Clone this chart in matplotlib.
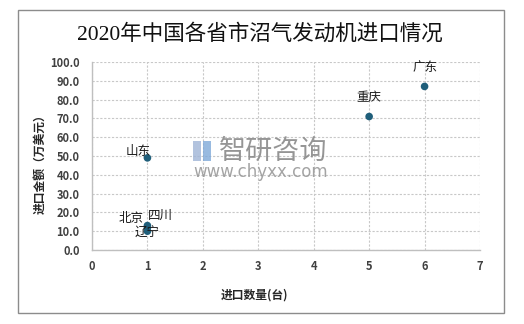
import matplotlib
matplotlib.use("Agg")
import matplotlib.pyplot as plt
from matplotlib.patches import Rectangle

plt.rcParams['font.family'] = ['Noto Sans CJK SC', 'DejaVu Sans']

# Data: import quantity (units) vs import value (10k USD) by province
provinces = ['广东', '重庆', '山东', '北京', '四川', '辽宁']
quantity = [6, 5, 1, 1, 1, 1]
amount = [87, 71, 49, 13, 12, 10]
# label offsets in points (dx, dy)
label_offsets = [(0, 13.7), (0, 13.7), (-6.5, 4.3), (-11.5, 4.8), (9.4, 8.9), (0, -0.7)]

x_ticks = list(range(0, 8))
y_ticks = [0, 10, 20, 30, 40, 50, 60, 70, 80, 90, 100]

title = '2020年中国各省市沼气发动机进口情况'
x_label = '进口数量(台)'
y_label = '进口金额（万美元）'

W, H = 524, 324
fig = plt.figure(figsize=(W / 100, H / 100), dpi=100)
fig.patch.set_facecolor('white')

# outer frame
fig.patches.append(Rectangle((18 / W, 1 - 313 / H), (504 - 18) / W, (313 - 10) / H,
                             transform=fig.transFigure, fill=False,
                             edgecolor='#8c8c8c', linewidth=1.0))

ax = fig.add_axes([92 / W, 1 - 250 / H, (480 - 92) / W, (250 - 62) / H])
ax.set_xlim(0, 7)
ax.set_ylim(0, 100)
ax.set_xticks(x_ticks)
ax.set_yticks(y_ticks)
ax.set_xticklabels([str(v) for v in x_ticks])
ax.set_yticklabels([f'{v:.1f}' for v in y_ticks])

grid_color = '#c8c8c8'
ax.grid(True, color=grid_color, linestyle=(0, (2, 1.5)), linewidth=0.8)
ax.set_axisbelow(True)
for side in ['top', 'right']:
    ax.spines[side].set_visible(False)
for side in ['left', 'bottom']:
    ax.spines[side].set_color('#bfbfbf')
    ax.spines[side].set_linewidth(1.0)
ax.tick_params(axis='y', length=0, labelsize=8, labelcolor='#404040', pad=9)
ax.tick_params(axis='x', length=0, labelsize=8, labelcolor='#404040', pad=7)
for lab in ax.get_xticklabels() + ax.get_yticklabels():
    lab.set_fontweight('bold')

ax.scatter(quantity, amount, s=30, color='#1f5e7a', zorder=3, edgecolors='none')

for name, xv, yv, (dx, dy) in zip(provinces, quantity, amount, label_offsets):
    ax.annotate(name, (xv, yv), xytext=(dx, dy), textcoords='offset points',
                ha='center', va='center', fontsize=9, fontweight='medium',
                color='#1a1a1a', zorder=4)

# titles
fig.text(260 / W, 1 - 34 / H, title, ha='center', va='center', fontsize=15.5,
         fontweight='medium', family=['Liberation Serif', 'Noto Sans CJK SC'],
         color='#111111')
fig.text(254 / W, 1 - 295 / H, x_label, ha='center', va='center', fontsize=8.5,
         fontweight='bold', color='#262626')
fig.text(40 / W, 1 - 161 / H, y_label, ha='center', va='center', fontsize=8.5,
         fontweight='bold', color='#262626', rotation=90)

# brand watermark
fig.patches.append(Rectangle((193 / W, 1 - 161 / H), 8 / W, 20 / H, transform=fig.transFigure,
                             facecolor='#9fb4d6', edgecolor='none', alpha=0.8, zorder=5))
fig.patches.append(Rectangle((203 / W, 1 - 161 / H), 8 / W, 20 / H, transform=fig.transFigure,
                             facecolor='#7fa9d9', edgecolor='none', alpha=0.8, zorder=5))
fig.text(273 / W, 1 - 151 / H, '智研咨询', ha='center', va='center', fontsize=19.5,
         fontweight='light', color='#8a8a8a', alpha=0.9, zorder=5)
fig.text(261 / W, 1 - 172 / H, 'www.chyxx.com', ha='center', va='center',
         fontsize=12, color='#9a9a9a', alpha=0.9, zorder=5, family=['DejaVu Sans'])

fig.savefig('out.png', dpi=100)
